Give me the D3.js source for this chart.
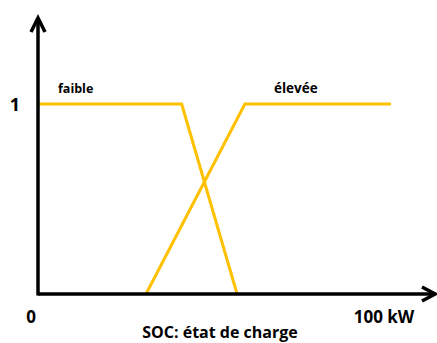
<!DOCTYPE html>
<html><head><meta charset="utf-8">
<script src="https://cdn.jsdelivr.net/npm/d3@7"></script>
<style>body{margin:0;background:#fff}svg{display:block}text{font-family:"Open Sans",sans-serif;font-weight:bold;fill:#000}</style>
</head><body><svg id="c" width="437" height="343"></svg>
<script>
const seriesNames = ["faible", "élevée"];
const faibleX = [0, 40.7, 56.4];
const faibleY = [1, 1, 0];
const eleveeX = [30.6, 58.6, 100];
const eleveeY = [0, 1, 1];
const xTickLabels = ["0", "100 kW"];
const yTickLabels = ["1"];
const xTitle = "SOC: état de charge";

const svg = d3.select("#c");
const x = d3.scaleLinear().domain([0, 100]).range([38, 391]);
const y = d3.scaleLinear().domain([0, 1]).range([294, 104]);
const color = "#FFC000";

const line = d3.line().x(d => x(d[0])).y(d => y(d[1]));
const series = [
  faibleX.map((v, i) => [v, faibleY[i]]),
  eleveeX.map((v, i) => [v, eleveeY[i]])
];
svg.selectAll("path.s").data(series).join("path").attr("class", "s")
  .attr("d", line).attr("fill", "none").attr("stroke", color).attr("stroke-width", 3);

// axes
const x0 = x(0), y0 = y(0);
svg.append("line").attr("x1", x0).attr("y1", y0).attr("x2", 434).attr("y2", y0)
  .attr("stroke", "#000").attr("stroke-width", 3.5);
svg.append("line").attr("x1", x0).attr("y1", y0 + 1.5).attr("x2", x0).attr("y2", 19)
  .attr("stroke", "#000").attr("stroke-width", 3.5);
// arrowheads
svg.append("path").attr("d", `M${x0 - 7},${32} L${x0},${18} L${x0 + 7},${32}`)
  .attr("fill", "none").attr("stroke", "#000").attr("stroke-width", 3.5).attr("stroke-linejoin", "miter");
svg.append("path").attr("d", `M${422},${y0 - 7} L${435},${y0} L${422},${y0 + 7}`)
  .attr("fill", "none").attr("stroke", "#000").attr("stroke-width", 3.5).attr("stroke-linejoin", "miter");

// tick labels
svg.append("text").attr("x", x(0) - 7).attr("y", 323).attr("text-anchor", "middle")
  .style("font-size", "17px").text(xTickLabels[0]);
svg.append("text").attr("x", 384).attr("y", 323).attr("text-anchor", "middle")
  .style("font-size", "17px").text(xTickLabels[1]);
svg.append("text").attr("x", 15).attr("y", y(1) + 7).attr("text-anchor", "middle")
  .style("font-size", "18px").text(yTickLabels[0]);

// series labels
svg.append("text").attr("x", 58).attr("y", 93).style("font-size", "12.5px").text(seriesNames[0]);
svg.append("text").attr("x", 274).attr("y", 93).style("font-size", "13.5px").text(seriesNames[1]);

// axis title
svg.append("text").attr("x", 220).attr("y", 338).attr("text-anchor", "middle")
  .style("font-size", "16px").text(xTitle);
</script></body></html>
